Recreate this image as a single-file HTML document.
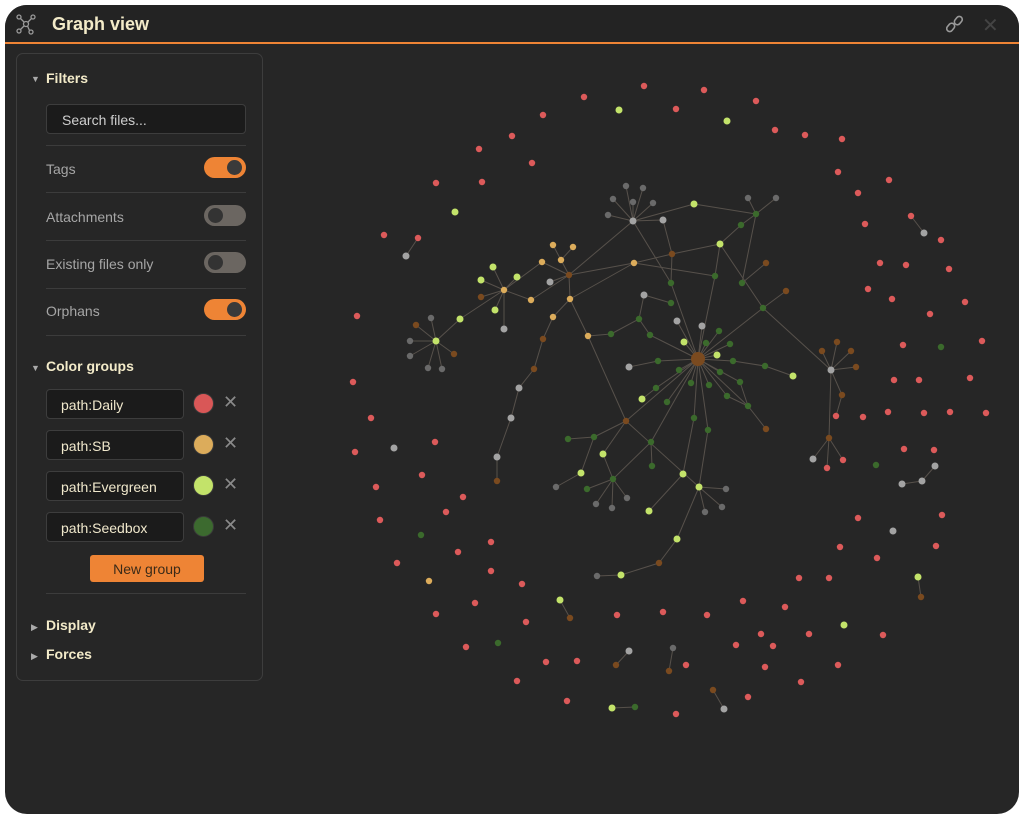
<!DOCTYPE html>
<html><head><meta charset="utf-8"><style>
*{box-sizing:border-box;margin:0;padding:0}
body{width:1024px;height:819px;background:#fff;font-family:"Liberation Sans",sans-serif;position:relative;overflow:hidden}
#win{position:absolute;left:5px;top:5px;width:1014px;height:809px;background:#262626;border-radius:22px;overflow:hidden}
#hdr{position:absolute;left:0;top:0;width:1014px;height:39px;background:#232323;border-bottom:2px solid #ee8435}
#title{position:absolute;left:47px;top:9px;font-size:18px;font-weight:bold;color:#f3ebc9}
#panel{position:absolute;left:11px;top:48px;width:247px;height:628px;border:1px solid #3d3d3d;border-radius:7px;background:#262626}
.h{position:absolute;left:29px;font-size:14px;font-weight:bold;color:#f3ebc9}
.tri{position:absolute;left:14px;font-size:9px;color:#aaa}
.sep{position:absolute;left:29px;width:200px;height:1px;background:#3c3c3c}
.lbl{position:absolute;left:29px;font-size:14px;color:#a6a6a6}
.tg{position:absolute;left:187px;width:42px;height:21px;border-radius:11px}
.tg i{position:absolute;top:3px;width:15px;height:15px;border-radius:50%;background:#3a3a3a}
.on{background:#ee8435}.on i{right:4px}
.off{background:#6b6661}.off i{left:4px;background:#333}
.inp{position:absolute;left:29px;width:138px;height:30px;background:#1b1b1b;border:1px solid #3d3d3d;border-radius:4px;font-size:14px;color:#f0e8cc;padding:7px 0 0 14px}
.sw{position:absolute;left:176px;width:21px;height:21px;border-radius:50%;border:1px solid #3a3a3a}
.x{position:absolute;left:206px;font-size:18px;color:#8a8a8a}
</style></head><body>
<div id="win">
<svg id="graph" width="1014" height="809" style="position:absolute;left:0;top:0"></svg>
<div id="hdr">
<svg style="position:absolute;left:10px;top:8px" width="22" height="22" viewBox="0 0 22 22" fill="none" stroke="#9a9a9a" stroke-width="1.3"><circle cx="11" cy="11" r="2.5"/><circle cx="4" cy="4" r="2"/><circle cx="18" cy="4" r="2"/><circle cx="4" cy="18" r="2"/><circle cx="16" cy="19" r="2"/><path d="M5.5 5.5L9 9M16.5 5.5L13 9M5.5 16.5L9 13M14.5 17.5L12.5 13"/></svg>
<div id="title">Graph view</div>
<svg style="position:absolute;left:941px;top:10px" width="18" height="18" viewBox="0 0 18 18" fill="none" stroke="#999" stroke-width="1.6"><rect x="2" y="8" width="6" height="9" rx="3" transform="rotate(40 5 12)"/><rect x="9" y="1" width="6" height="9" rx="3" transform="rotate(40 12 6)"/></svg>
<div style="position:absolute;left:977px;top:8px;font-size:20px;color:#444">✕</div>
</div>
<div id="panel">
<div class="tri" style="top:20px">▼</div>
<div class="h" style="top:16px">Filters</div>
<div class="inp" style="top:50px;width:200px;padding-left:15px;color:#cfcfcf">Search files...</div>
<div class="sep" style="top:91px"></div>
<div class="lbl" style="top:107px">Tags</div>
<div class="tg on" style="top:103px"><i></i></div>
<div class="sep" style="top:138px"></div>
<div class="lbl" style="top:155px">Attachments</div>
<div class="tg off" style="top:151px"><i></i></div>
<div class="sep" style="top:186px"></div>
<div class="lbl" style="top:202px">Existing files only</div>
<div class="tg off" style="top:198px"><i></i></div>
<div class="sep" style="top:234px"></div>
<div class="lbl" style="top:249px">Orphans</div>
<div class="tg on" style="top:245px"><i></i></div>
<div class="sep" style="top:281px"></div>
<div class="tri" style="top:309px">▼</div>
<div class="h" style="top:304px">Color groups</div>
<div class="inp" style="top:335px">path:Daily</div>
<div class="sw" style="top:339px;background:#d95757"></div>
<div class="x" style="top:338px">✕</div>
<div class="inp" style="top:376px">path:SB</div>
<div class="sw" style="top:380px;background:#dcac5b"></div>
<div class="x" style="top:379px">✕</div>
<div class="inp" style="top:417px">path:Evergreen</div>
<div class="sw" style="top:421px;background:#c3e36a"></div>
<div class="x" style="top:420px">✕</div>
<div class="inp" style="top:458px">path:Seedbox</div>
<div class="sw" style="top:462px;background:#3c6a2f"></div>
<div class="x" style="top:461px">✕</div>
<div style="position:absolute;left:73px;top:501px;width:114px;height:27px;background:#ee8435;border-radius:3px;font-size:14px;color:#3a2a18;text-align:center;padding-top:6px">New group</div>
<div class="sep" style="top:539px"></div>
<div class="tri" style="top:568px">▶</div>
<div class="h" style="top:563px">Display</div>
<div class="tri" style="top:597px">▶</div>
<div class="h" style="top:592px">Forces</div>
</div>
</div>
<script>
const nodeX=[
698,658,629,733,765,793,679,720,740,691,
709,727,748,766,694,708,656,642,667,626,
594,568,603,581,613,587,556,596,612,627,
651,652,683,699,726,722,705,649,684,706,
717,730,719,702,677,644,671,671,672,639,
611,650,588,570,569,561,553,573,542,550,
553,543,634,633,663,694,626,643,613,633,
653,608,748,776,756,741,720,715,742,766,
786,763,831,822,837,851,856,842,836,829,
813,827,843,504,493,481,481,495,504,531,
517,436,416,431,410,410,428,442,454,460,
534,519,511,497,497,677,659,621,597,560,
570,918,921,629,616,673,669,713,724,612,
635,902,922,935,418,406,911,924];
const nodeY=[
359,361,367,361,366,376,370,372,382,383,
385,396,406,429,418,430,388,399,402,421,
437,439,454,473,479,489,487,504,508,498,
442,466,474,487,489,507,512,511,342,343,
355,344,331,326,321,295,303,283,254,319,
334,335,336,299,275,260,245,247,262,282,
317,339,263,221,220,204,186,188,199,202,
203,215,198,198,214,225,244,276,283,263,
291,308,370,351,342,351,367,395,416,438,
459,468,460,290,267,280,297,310,329,300,
277,341,325,318,341,356,368,369,354,319,
369,388,418,457,481,539,563,575,576,600,
618,577,597,651,665,648,671,690,709,708,
707,484,481,466,238,256,216,233];
const nodeGroup=[
'b','g','s','g','g','l','g','g','g','g',
'g','g','g','b','g','g','g','l','g','b',
'g','g','l','l','g','g','d','d','d','d',
'g','g','l','l','d','d','d','l','l','g',
'l','g','g','s','s','s','g','g','b','g',
'g','g','o','o','b','o','o','o','o','s',
'o','b','o','s','s','l','d','d','d','d',
'd','d','d','d','g','g','l','g','g','b',
'b','g','s','b','b','b','b','b','r','b',
's','r','r','o','l','l','b','l','s','o',
'l','l','b','d','d','d','d','d','b','l',
'b','s','s','s','b','l','b','l','d','l',
'b','l','b','s','b','d','b','b','s','l',
'g','s','s','s','r','s','r','s'];
const edges=[
[0,1],[0,3],[0,6],[0,7],[0,8],[0,9],[0,10],[0,11],[0,12],[0,14],
[0,15],[0,16],[0,18],[0,38],[0,39],[0,40],[0,41],[0,42],[0,43],[0,44],
[0,30],[0,19],[0,77],[1,2],[3,4],[4,5],[11,12],[12,13],[8,12],[15,33],
[16,17],[19,20],[19,22],[19,33],[20,21],[20,23],[22,24],[24,29],[24,28],[24,27],
[24,25],[23,26],[30,31],[30,24],[32,37],[33,34],[33,35],[33,36],[33,115],[115,116],
[116,117],[117,118],[45,49],[45,46],[47,48],[48,62],[48,76],[47,0],[49,50],[49,51],
[51,0],[50,52],[52,19],[52,53],[53,54],[54,55],[55,56],[55,57],[54,58],[54,59],
[54,62],[53,60],[53,62],[63,66],[63,67],[63,68],[63,69],[63,70],[63,71],[63,64],
[63,65],[63,54],[63,47],[64,48],[65,74],[74,72],[74,73],[74,75],[75,76],[74,78],
[76,77],[76,81],[77,62],[78,79],[81,80],[81,82],[81,0],[82,83],[82,84],[82,85],
[82,86],[82,87],[87,88],[82,89],[89,90],[89,91],[89,92],[93,94],[93,95],[93,96],
[93,97],[93,98],[93,99],[93,100],[99,54],[93,58],[101,102],[101,103],[101,104],[101,105],
[101,106],[101,107],[101,108],[101,109],[109,93],[61,110],[110,111],[111,112],[112,113],[113,114],
[60,61],[119,120],[121,122],[123,124],[125,126],[127,128],[129,130],[131,132],[132,133],[134,135],
[136,137],[14,32]];
const loneRed=[[644,86],[704,90],[584,97],[676,109],[756,101],[543,115],[775,130],[512,136],[805,135],[479,149],
[842,139],[532,163],[838,172],[436,183],[482,182],[858,193],[889,180],[384,235],[865,224],[941,240],
[880,263],[906,265],[868,289],[949,269],[892,299],[965,302],[357,316],[930,314],[903,345],[982,341],
[353,382],[894,380],[919,380],[970,378],[371,418],[355,452],[435,442],[888,412],[924,413],[950,412],
[986,413],[422,475],[376,487],[863,417],[463,497],[380,520],[446,512],[858,518],[942,515],[397,563],
[491,542],[458,552],[936,546],[840,547],[877,558],[491,571],[799,578],[829,578],[475,603],[522,584],
[436,614],[743,601],[785,607],[617,615],[663,612],[707,615],[526,622],[883,635],[761,634],[809,634],
[466,647],[577,661],[546,662],[736,645],[773,646],[686,665],[838,665],[801,682],[765,667],[517,681],
[567,701],[748,697],[676,714],[904,449],[934,450]];
const loneLime=[[727,121],[619,110],[455,212],[844,625]];
const loneGreen=[[941,347],[421,535],[876,465],[498,643]];
const loneOrange=[[429,581]];
const loneGrey=[[394,448],[893,531]];
const colors={r:"#dc5a5a",o:"#dcac5b",l:"#c3e36a",g:"#3b6a2c",b:"#7a4a1f",s:"#a3a3a3",d:"#6a6a6a"};
const NS="http://www.w3.org/2000/svg";
const svg=document.getElementById('graph');
const sx=v=>v-5, sy=v=>v-5;
function dot(x,y,g,r){
  const c=document.createElementNS(NS,'circle');
  
  
  c.setAttribute('cx',sx(x));c.setAttribute('cy',sy(y));
  c.setAttribute('r',r);
  c.setAttribute('fill',colors[g]);
  svg.appendChild(c);
}
edges.forEach(e=>{
  const a=e[0],b=e[1];
  const l=document.createElementNS(NS,'line');
  
  
  l.setAttribute('x1',sx(nodeX[a]));l.setAttribute('y1',sy(nodeY[a]));
  l.setAttribute('x2',sx(nodeX[b]));l.setAttribute('y2',sy(nodeY[b]));
  l.setAttribute('stroke','#57514b');l.setAttribute('stroke-width','1');
  svg.appendChild(l);
});
const rad=g=>(g==='l'||g==='s')?3.5:3.2;
for(let i=0;i<nodeX.length;i++){
  const g=nodeGroup[i];
  dot(nodeX[i],nodeY[i],g,i===0?7:rad(g));
}
[[loneRed,'r'],[loneLime,'l'],[loneGreen,'g'],[loneOrange,'o'],[loneGrey,'s']].forEach(p=>{
  p[0].forEach(pt=>dot(pt[0],pt[1],p[1],rad(p[1])));
});
</script>
</body></html>
